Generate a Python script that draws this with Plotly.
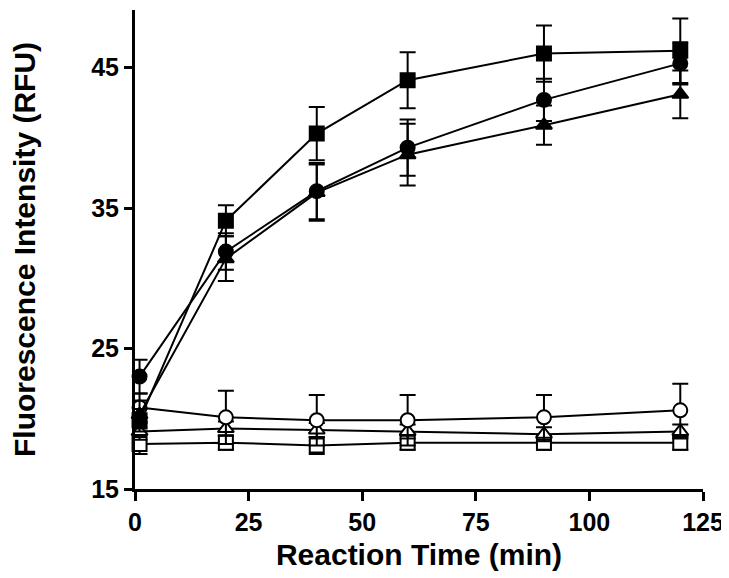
import plotly.graph_objects as go

time_min = [1, 20, 40, 60, 90, 120]

sq_filled = [19.9, 34.1, 40.3, 44.1, 46.0, 46.2]
sq_filled_err = [0.8, 1.1, 1.9, 2.0, 2.0, 2.3]
circ_filled = [23.0, 31.9, 36.2, 39.3, 42.7, 45.3]
circ_filled_err = [1.2, 1.3, 2.0, 2.0, 1.5, 1.5]
tri_filled = [20.3, 31.4, 36.1, 38.8, 40.9, 43.1]
tri_filled_err = [1.0, 1.6, 2.0, 2.2, 1.4, 1.7]
circ_open = [20.8, 20.1, 19.9, 19.9, 20.1, 20.6]
circ_open_err = [1.0, 1.9, 1.8, 1.8, 1.6, 1.9]
tri_open = [19.1, 19.3, 19.2, 19.1, 18.9, 19.1]
tri_open_err = [0.6, 0.5, 0.5, 0.5, 0.5, 0.5]
sq_open = [18.2, 18.3, 18.1, 18.3, 18.3, 18.3]
sq_open_err = [0.7, 0.5, 0.6, 0.5, 0.5, 0.5]

x_ticks = [0, 25, 50, 75, 100, 125]
y_ticks = [15, 25, 35, 45]

series = [
    (sq_open, sq_open_err, "square", "white"),
    (tri_open, tri_open_err, "triangle-up", "white"),
    (circ_open, circ_open_err, "circle", "white"),
    (tri_filled, tri_filled_err, "triangle-up", "black"),
    (circ_filled, circ_filled_err, "circle", "black"),
    (sq_filled, sq_filled_err, "square", "black"),
]

fig = go.Figure()
for vals, errs, sym, fill in series:
    fig.add_trace(go.Scatter(
        x=time_min, y=vals, mode="lines+markers",
        line=dict(color="black", width=2),
        marker=dict(symbol=sym, size=14, color=fill,
                    line=dict(color="black", width=2)),
        error_y=dict(type="data", array=errs, visible=True, color="black",
                     thickness=2, width=8),
        cliponaxis=False, showlegend=False,
    ))

fam = "Liberation Sans, Arial, sans-serif"
font = dict(family=fam, color="black", weight="bold")
fig.update_layout(
    width=721, height=570,
    margin=dict(l=127, r=26, t=2, b=89),
    plot_bgcolor="white", paper_bgcolor="white",
    font=font,
    xaxis=dict(range=[0, 125], tickvals=x_ticks, ticks="outside", ticklen=9,
               tickwidth=3, tickcolor="black", showline=True, linewidth=3,
               linecolor="black", showgrid=False, zeroline=False,
               tickfont=dict(size=25, **font),
               title=dict(text="Reaction Time (min)", font=dict(size=30, **font), standoff=9)),
    yaxis=dict(range=[15, 49.1], tickvals=y_ticks, ticks="outside", ticklen=8,
               tickwidth=3, tickcolor="black", showline=True, linewidth=3,
               linecolor="black", showgrid=False, zeroline=False,
               tickfont=dict(size=25, **font),
               title=dict(text="Fluorescence Intensity (RFU)", font=dict(size=30, **font), standoff=50)),
)
fig.write_html("out.html")
